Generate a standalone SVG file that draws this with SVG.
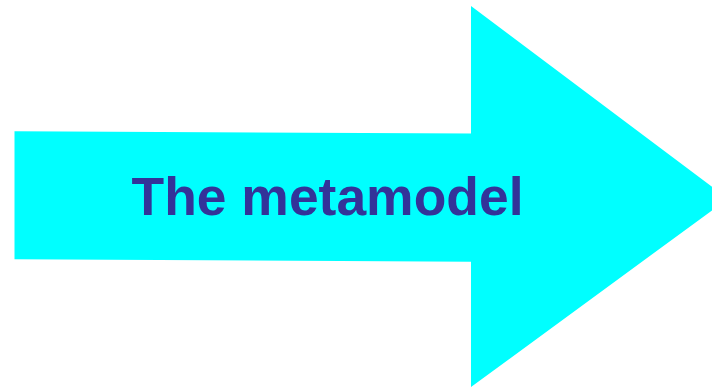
<svg xmlns="http://www.w3.org/2000/svg" width="712" height="388" viewBox="0 0 712 388">
<style>
.arrow{fill:#00FFFF;stroke:none}
.label{font-family:"Liberation Sans",Arial,sans-serif;font-weight:bold;font-size:54px;fill:#333399}
</style>
<rect width="712" height="388" fill="#FFFFFF"/>
<g id="arrow">
<polygon class="arrow" points="14.5,131.3 471,133.5 471,6 728,198.7 471,387 471,261.7 14.5,259.3"/>
<text class="label" x="131.5" y="215" textLength="392" lengthAdjust="spacingAndGlyphs">The metamodel</text>
</g>
</svg>
